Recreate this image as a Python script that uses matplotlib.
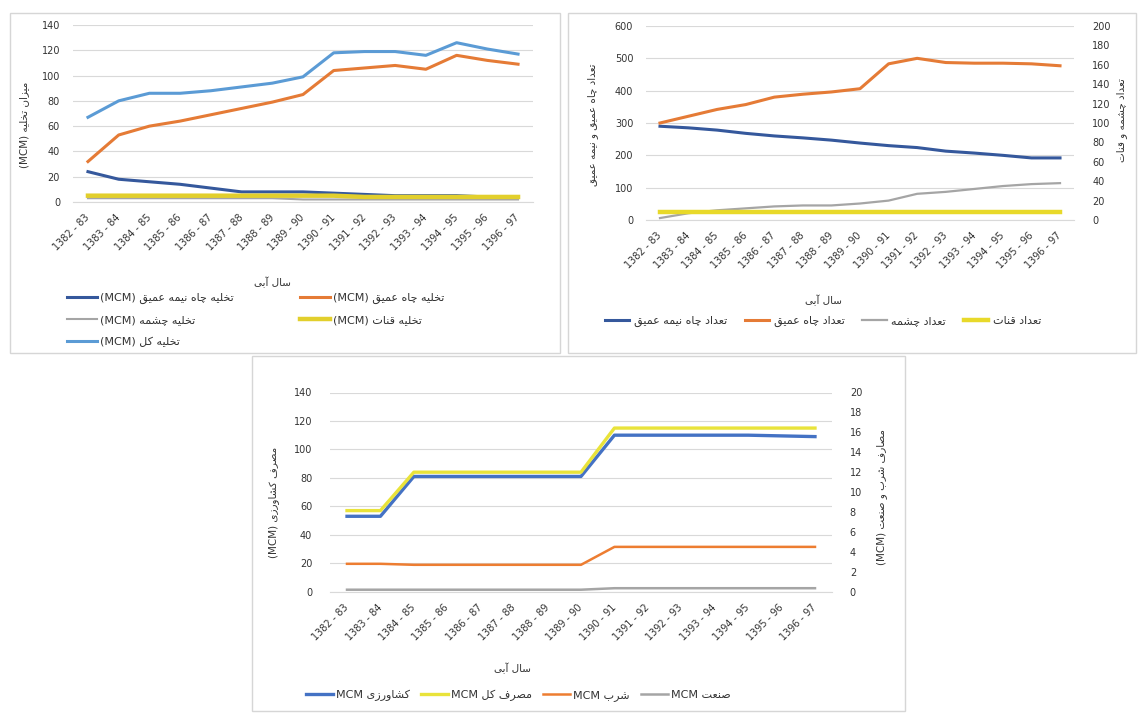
import matplotlib
matplotlib.use("Agg")
import matplotlib.pyplot as plt
from matplotlib.patches import Rectangle

# ---------------------------------------------------------------- data
years = ["1382 - 83", "1383 - 84", "1384 - 85", "1385 - 86", "1386 - 87",
         "1387 - 88", "1388 - 89", "1389 - 90", "1390 - 91", "1391 - 92",
         "1392 - 93", "1393 - 94", "1394 - 95", "1395 - 96", "1396 - 97"]

# discharge (MCM)
dis_semi_deep = [24, 18, 16, 14, 11, 8, 8, 8, 7, 6, 5, 5, 5, 4, 4]
dis_deep = [32, 53, 60, 64, 69, 74, 79, 85, 104, 106, 108, 105, 116, 112, 109]
dis_spring = [3, 3, 3, 3, 3, 3, 3, 2, 2, 2, 2, 2, 2, 2, 2]
dis_qanat = [5, 5, 5, 5, 5, 5, 5, 5, 5, 4, 4, 4, 4, 4, 4]
dis_total = [67, 80, 86, 86, 88, 91, 94, 99, 118, 119, 119, 116, 126, 121, 117]

# number of water sources
n_semi_deep = [290, 285, 278, 268, 260, 254, 247, 238, 230, 224, 213, 207, 200, 192, 192]
n_deep = [300, 321, 342, 357, 380, 389, 396, 406, 483, 500, 487, 485, 485, 483, 477]
n_spring = [2, 7, 10, 12, 14, 15, 15, 17, 20, 27, 29, 32, 35, 37, 38]
n_qanat = [8, 8, 8, 8, 8, 8, 8, 8, 8, 8, 8, 8, 8, 8, 8]

# consumption (MCM)
use_agri = [53, 53, 81, 81, 81, 81, 81, 81, 110, 110, 110, 110, 110, 109.5, 109]
use_total = [57, 57, 84, 84, 84, 84, 84, 84, 115, 115, 115, 115, 115, 115, 115]
use_drink = [2.8, 2.8, 2.7, 2.7, 2.7, 2.7, 2.7, 2.7, 4.5, 4.5, 4.5, 4.5, 4.5, 4.5, 4.5]
use_industry = [0.2, 0.2, 0.2, 0.2, 0.2, 0.2, 0.2, 0.2, 0.35, 0.35, 0.35, 0.35, 0.35, 0.35, 0.35]

# ---------------------------------------------------------------- text
x_title = "سال آبی"
leg_discharge = ["تخلیه چاه نیمه عمیق", "تخلیه چاه عمیق", "تخلیه چشمه",
                 "تخلیه قنات", "تخلیه کل"]
y_title_discharge = "میزان تخلیه"
leg_count = ["تعداد چاه نیمه عمیق", "تعداد چاه عمیق", "تعداد چشمه", "تعداد قنات"]
y_title_wells = "تعداد چاه عمیق و نیمه عمیق"
y_title_springs = "تعداد چشمه و قنات"
leg_use = ["کشاورزی", "مصرف کل", "شرب", "صنعت"]
y_title_agri = "مصرف کشاورزی"
y_title_other = "مصارف شرب و صنعت"
unit = "MCM"

# ---------------------------------------------------------------- Persian shaping
# isolated, final, initial, medial presentation forms
FORMS = {
    "ا": ("\uFE8D", "\uFE8E", None, None),
    "آ": ("\uFE81", "\uFE82", None, None),
    "ب": ("\uFE8F", "\uFE90", "\uFE91", "\uFE92"),
    "ت": ("\uFE95", "\uFE96", "\uFE97", "\uFE98"),
    "خ": ("\uFEA5", "\uFEA6", "\uFEA7", "\uFEA8"),
    "د": ("\uFEA9", "\uFEAA", None, None),
    "ر": ("\uFEAD", "\uFEAE", None, None),
    "ز": ("\uFEAF", "\uFEB0", None, None),
    "س": ("\uFEB1", "\uFEB2", "\uFEB3", "\uFEB4"),
    "ش": ("\uFEB5", "\uFEB6", "\uFEB7", "\uFEB8"),
    "ص": ("\uFEB9", "\uFEBA", "\uFEBB", "\uFEBC"),
    "ع": ("\uFEC9", "\uFECA", "\uFECB", "\uFECC"),
    "ف": ("\uFED1", "\uFED2", "\uFED3", "\uFED4"),
    "ق": ("\uFED5", "\uFED6", "\uFED7", "\uFED8"),
    "ل": ("\uFEDD", "\uFEDE", "\uFEDF", "\uFEE0"),
    "م": ("\uFEE1", "\uFEE2", "\uFEE3", "\uFEE4"),
    "ن": ("\uFEE5", "\uFEE6", "\uFEE7", "\uFEE8"),
    "ه": ("\uFEE9", "\uFEEA", "\uFEEB", "\uFEEC"),
    "و": ("\uFEED", "\uFEEE", None, None),
    "چ": ("\uFB7A", "\uFB7B", "\uFB7C", "\uFB7D"),
    "ک": ("\uFB8E", "\uFB8F", "\uFB90", "\uFB91"),
    "ی": ("\uFBFC", "\uFBFD", "\uFBFE", "\uFBFF"),
}


def fa(text):
    """Join Persian letters and return them in visual (left-to-right) order."""
    out = []
    for i, ch in enumerate(text):
        f = FORMS.get(ch)
        if f is None:
            out.append(ch)
            continue
        prev = text[i - 1] if i > 0 else None
        nxt = text[i + 1] if i + 1 < len(text) else None
        join_prev = prev in FORMS and FORMS[prev][2] is not None
        join_next = nxt in FORMS and f[2] is not None
        if join_prev and join_next:
            out.append(f[3])
        elif join_prev:
            out.append(f[1])
        elif join_next:
            out.append(f[2])
        else:
            out.append(f[0])
    return "".join(out)[::-1]


def with_unit(text, paren=True):
    u = f"({unit})" if paren else unit
    return f"{u} {fa(text)}"


# ---------------------------------------------------------------- figure
W, H = 1138, 715
plt.rcParams["font.family"] = ["DejaVu Sans"]
fig = plt.figure(figsize=(W / 100, H / 100), dpi=100)
fig.patch.set_facecolor("white")

GRID = "#D9D9D9"
TXT = "#333333"
LEG_FS = 8


def px_axes(x0, x1, ytop, ybot):
    return fig.add_axes([x0 / W, 1 - ybot / H, (x1 - x0) / W, (ybot - ytop) / H])


def fx(x):
    return x / W


def fy(y):
    return 1 - y / H


def panel(x0, y0, x1, y1):
    fig.add_artist(Rectangle((fx(x0), fy(y1)), (x1 - x0) / W, (y1 - y0) / H,
                             transform=fig.transFigure, fill=False,
                             ec="#D6D6D6", lw=1.0))


def style_axes(ax, ymax, ystep, pad):
    ax.set_xlim(-0.5, len(years) - 0.5)
    ax.set_ylim(0, ymax)
    ax.set_yticks(range(0, ymax + 1, ystep))
    ax.set_xticks(range(len(years)))
    ax.set_xticklabels(years, rotation=45, ha="right", va="center",
                       rotation_mode="anchor", fontsize=7, color=TXT)
    ax.tick_params(axis="x", length=0, pad=10)
    ax.tick_params(axis="y", length=0, pad=pad, labelsize=7, labelcolor=TXT)
    for s in ax.spines.values():
        s.set_visible(False)
    ax.spines["bottom"].set_visible(True)
    ax.spines["bottom"].set_color(GRID)
    ax.grid(axis="y", color=GRID, lw=0.8)
    ax.set_axisbelow(True)


x = list(range(len(years)))

# ---------------------------------------------------------------- chart 1
panel(10, 13, 560, 353)
ax1 = px_axes(72.6, 533.4, 25, 202)
style_axes(ax1, 140, 20, 9)
c_semi, c_deep, c_spring, c_qanat, c_total = "#35589C", "#E57B36", "#A5A5A5", "#E2CF2C", "#5B9BD5"
l_semi, = ax1.plot(x, dis_semi_deep, color=c_semi, lw=2.2)
l_deep, = ax1.plot(x, dis_deep, color=c_deep, lw=2.2)
l_spr, = ax1.plot(x, dis_spring, color=c_spring, lw=1.5)
l_qan, = ax1.plot(x, dis_qanat, color=c_qanat, lw=3.2)
l_tot, = ax1.plot(x, dis_total, color=c_total, lw=2.2)
fig.text(fx(24), fy(125), with_unit(y_title_discharge), rotation=90,
         ha="center", va="center", fontsize=7.5, color=TXT)
fig.text(fx(272), fy(282), fa(x_title), ha="center", va="center",
         fontsize=7.5, color=TXT)
fig.legend([l_semi, l_spr, l_tot, l_deep, l_qan],
           [with_unit(leg_discharge[0]), with_unit(leg_discharge[2]),
            with_unit(leg_discharge[4]), with_unit(leg_discharge[1]),
            with_unit(leg_discharge[3])],
           ncol=2, loc="upper left", bbox_to_anchor=(fx(67), fy(293)),
           frameon=False, fontsize=LEG_FS, handlelength=2.7, handletextpad=0.3,
           columnspacing=5.9, labelspacing=1.0, borderpad=0, borderaxespad=0,
           labelcolor=TXT)

# ---------------------------------------------------------------- chart 2
panel(568, 13, 1136, 353)
ax2 = px_axes(645.7, 1074.3, 26, 220)
style_axes(ax2, 600, 100, 9)
ax2r = ax2.twinx()
ax2r.set_ylim(0, 200)
ax2r.set_yticks(range(0, 201, 20))
ax2r.tick_params(axis="y", length=0, pad=13, labelsize=7, labelcolor=TXT)
for s in ax2r.spines.values():
    s.set_visible(False)
m_semi, = ax2.plot(x, n_semi_deep, color="#35589C", lw=2.2)
m_deep, = ax2.plot(x, n_deep, color="#E57B36", lw=2.2)
m_spr, = ax2r.plot(x, n_spring, color="#A5A5A5", lw=1.6)
m_qan, = ax2r.plot(x, n_qanat, color="#E8D92A", lw=3.2)
fig.text(fx(593), fy(125), fa(y_title_wells), rotation=90,
         ha="center", va="center", fontsize=7.5, color=TXT)
fig.text(fx(1122), fy(120), fa(y_title_springs), rotation=90,
         ha="center", va="center", fontsize=7.5, color=TXT)
fig.text(fx(823), fy(300), fa(x_title), ha="center", va="center",
         fontsize=7.5, color=TXT)
fig.legend([m_semi, m_deep, m_spr, m_qan], [fa(t) for t in leg_count],
           ncol=4, loc="upper left", bbox_to_anchor=(fx(605), fy(316)),
           frameon=False, fontsize=LEG_FS, handlelength=2.2, handletextpad=0.4,
           columnspacing=1.6, borderpad=0, borderaxespad=0, labelcolor=TXT)

# ---------------------------------------------------------------- chart 3
panel(252, 356, 905, 711)
ax3 = px_axes(330.3, 831.7, 392.5, 591.7)
style_axes(ax3, 140, 20, 13)
ax3r = ax3.twinx()
ax3r.set_ylim(0, 20)
ax3r.set_yticks(range(0, 21, 2))
ax3r.tick_params(axis="y", length=0, pad=13, labelsize=7, labelcolor=TXT)
for s in ax3r.spines.values():
    s.set_visible(False)
u_agri, = ax3.plot(x, use_agri, color="#4472C4", lw=2.4)
u_tot, = ax3.plot(x, use_total, color="#E9E33A", lw=2.4)
u_drk, = ax3r.plot(x, use_drink, color="#ED7D31", lw=1.8)
u_ind, = ax3r.plot(x, use_industry, color="#A5A5A5", lw=1.8)
fig.text(fx(274), fy(502), with_unit(y_title_agri), rotation=90,
         ha="center", va="center", fontsize=7.5, color=TXT)
fig.text(fx(882), fy(497), with_unit(y_title_other), rotation=90,
         ha="center", va="center", fontsize=7.5, color=TXT)
fig.text(fx(512), fy(668), fa(x_title), ha="center", va="center",
         fontsize=7.5, color=TXT)
fig.legend([u_agri, u_tot, u_drk, u_ind],
           [with_unit(t, paren=False) for t in leg_use],
           ncol=4, loc="upper left", bbox_to_anchor=(fx(306), fy(690)),
           frameon=False, fontsize=LEG_FS, handlelength=2.4, handletextpad=0.3,
           columnspacing=1.0, borderpad=0, borderaxespad=0, labelcolor=TXT)

fig.savefig("out.png", dpi=100, facecolor="white")
